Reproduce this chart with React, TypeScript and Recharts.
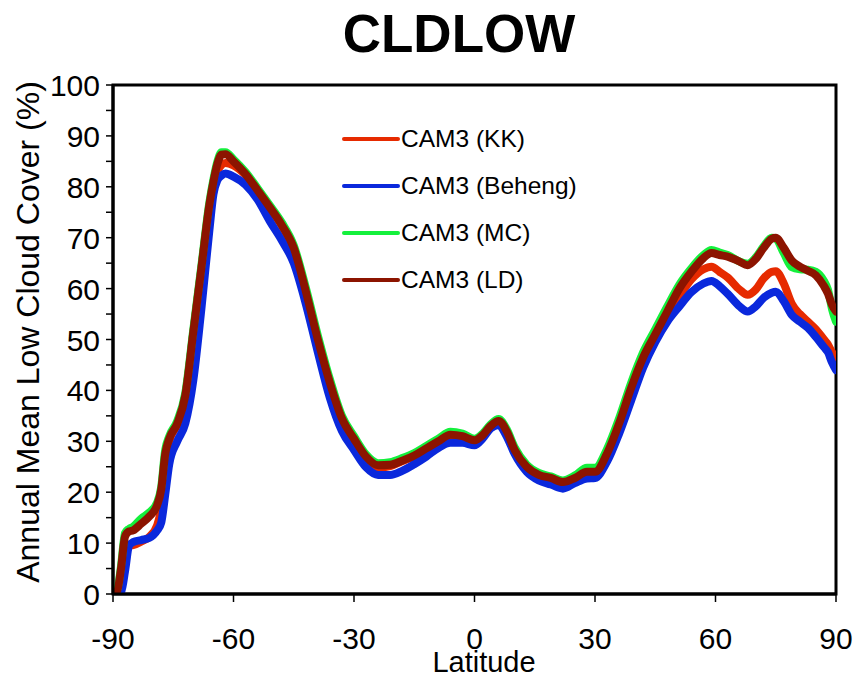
import React from "react";
import {
  LineChart,
  Line,
  XAxis,
  YAxis,
  Legend,
  ReferenceArea,
} from "recharts";

const LAT = [-90,-89,-88,-87,-86,-85,-83,-81,-79,-78,-77,-76,-74,-72,-70,-68,-66,-65,-64,-63,-62,-60,-57,-54,-51,-48,-45,-42,-39,-36,-33,-30,-27,-24,-21,-18,-15,-12,-9,-6,-3,0,2,4,6,8,10,13,16,19,22,25,28,30,33,36,39,42,45,48,51,54,57,59,61,63,66,68,70,72,74,75,77,79,81,83,85,87,88,89,90];

const KK = [0,0.3,3,9,9.5,9.6,10.3,11.2,13.5,17,25,30,33.3,38.8,51.3,63.8,76,80.3,83,84.3,84.7,84.2,82.3,79.2,75.9,72.4,67.9,59.4,49.9,41.4,34.4,30.4,26.7,24.8,25.1,26.1,27.1,28.5,29.9,31.1,30.9,30.1,31.1,32.9,33.9,31.9,28.2,24.9,23.3,22.7,21.9,22.7,23.8,23.9,27.5,33.3,40.3,46.3,50.6,54.8,58.5,61.8,63.8,64.3,63.3,62.2,59.8,58.8,59.8,62,63.3,63.4,61,57,55,53.5,52,50,49,47.5,46.5];

const BEHENG = [0,0,0.3,4.5,9.5,10.2,10.6,11,12.5,14,19.5,25.5,30,33.5,42,56,71.5,78.5,81.3,82.2,82.6,82,80.4,77.5,73.3,69.5,65,57,47.5,38.5,32,28.3,24.9,23.4,23.4,24.2,25.5,27,28.7,29.7,29.7,29.2,30.5,32.5,33.2,31,27.5,24,22.3,21.5,20.7,21.8,22.7,22.8,26,31.5,38,44.5,49.5,53.5,56.5,59.3,61,61.5,60.5,59,56.5,55.5,56.5,58.2,59.2,59.4,57.5,54.8,53.5,52.3,50.5,48.5,47.5,45.5,44];

const MC = [0,0.7,5.5,12,12.8,13.2,14.8,16,18,21,28.3,31,34,39.5,52,64.5,77,81.5,85,86.8,86.8,85.4,82.9,79.7,76.4,73,68.5,60.2,50.8,42.2,35,31,27.4,25.7,25.9,26.7,27.7,29.1,30.5,31.9,31.5,30.5,31.5,33.3,34.4,32.4,28.8,25.4,23.8,23.1,22.3,23.3,24.8,24.8,28.5,34.5,41.5,47.5,52,56.5,60.8,64,66.6,67.6,67.1,66.6,65.3,64.9,66.1,68.3,70,69.8,67,64.2,63.8,63.7,63.3,61.5,59.8,56,53.5];

const LD = [0,0.5,5,11.3,12.3,12.5,13.8,15.2,17.5,20.5,27.5,30.5,33.5,39,51.5,64,76.5,81,84.5,86.3,86.4,85,82.5,79.3,76,72.5,68,59.5,50,41.5,34.5,30.5,27,25.3,25.4,26.2,27.2,28.6,30,31.3,31,30.2,31.2,33,34,32,28.3,25,23.4,22.8,22,22.8,24,24,27.6,33.5,40.5,46.5,51,55.5,60,63.3,66,67,66.6,66.3,65.3,64.6,65.8,68,69.8,70,68,65.5,64.3,63.5,62.6,60.5,59,56.8,55.5];

const X_TICKS = [-90, -60, -30, 0, 30, 60, 90];
const Y_TICKS = [0,5,10,15,20,25,30,35,40,45,50,55,60,65,70,75,80,85,90,95,100];

const SERIES = [
  { key: "kk", name: "CAM3 (KK)", color: "#E62A00", values: KK },
  { key: "beheng", name: "CAM3 (Beheng)", color: "#0A28DC", values: BEHENG },
  { key: "mc", name: "CAM3 (MC)", color: "#14F03C", values: MC },
  { key: "ld", name: "CAM3 (LD)", color: "#8C1400", values: LD },
];

const data = LAT.map((lat, i) => {
  const row: Record<string, number> = { lat };
  SERIES.forEach((s) => {
    row[s.key] = s.values[i];
  });
  return row;
});

const FONT = "Arial, 'Liberation Sans', Helvetica, sans-serif";

const YTick = (props: any) => {
  const { x, y, payload } = props;
  if (payload.value % 10 !== 0) return <g />;
  return (
    <text x={x} y={y} dx={-4} dy={11} textAnchor="end" fontSize={30} fontFamily={FONT} fill="#000">
      {payload.value}
    </text>
  );
};

const XTick = (props: any) => {
  const { x, y, payload } = props;
  return (
    <text x={x} y={y} dy={45} textAnchor="middle" fontSize={30} fontFamily={FONT} fill="#000">
      {payload.value}
    </text>
  );
};

const YLabel = () => (
  <text
    transform="translate(28, 332) rotate(-90)"
    textAnchor="middle"
    dominantBaseline="central"
    fontSize={32}
    fontFamily={FONT}
    fill="#000"
  >
    Annual Mean Low Cloud Cover (%)
  </text>
);

const XLabel = () => (
  <text x={484} y={672} textAnchor="middle" fontSize={29} fontFamily={FONT} fill="#000">
    Latitude
  </text>
);

const LegendContent = () => (
  <div style={{ fontFamily: FONT }}>
    {SERIES.map((s) => (
      <div key={s.key} style={{ display: "flex", alignItems: "center", height: 47 }}>
        <svg width={60} height={10} style={{ display: "block" }}>
          <line x1={3} y1={5} x2={57} y2={5} stroke={s.color} strokeWidth={4} strokeLinecap="round" />
        </svg>
        <span style={{ fontSize: 24.5, color: "#000", whiteSpace: "nowrap" }}>{s.name}</span>
      </div>
    ))}
  </div>
);

export default function App() {
  return (
    <div style={{ position: "relative", width: 854, height: 677, overflow: "hidden" }}>
      <style>{`html, body { margin: 0; padding: 0; overflow: hidden; }`}</style>
      <div
        style={{
          position: "absolute",
          left: 0,
          top: 7,
          width: 918,
          textAlign: "center",
          fontFamily: FONT,
          fontWeight: "bold",
          fontSize: 53,
          lineHeight: "53px",
          color: "#000",
        }}
      >
        CLDLOW
      </div>
      <LineChart
        width={854}
        height={677}
        data={data}
        margin={{ top: 85, right: 18, left: 0, bottom: 0 }}
      >
        <XAxis
          dataKey="lat"
          type="number"
          domain={[-90, 90]}
          ticks={X_TICKS}
          allowDataOverflow
          tick={<XTick />}
          tickSize={8}
          tickLine={{ stroke: "#000", strokeWidth: 1.5 }}
          axisLine={{ stroke: "#000", strokeWidth: 3 }}
          height={83}
          interval={0}
          label={<XLabel />}
        />
        <YAxis
          type="number"
          domain={[0, 100]}
          ticks={Y_TICKS}
          allowDataOverflow
          tick={<YTick />}
          tickSize={7}
          tickLine={{ stroke: "#000", strokeWidth: 1.5 }}
          axisLine={{ stroke: "#000", strokeWidth: 3 }}
          width={113}
          interval={0}
          label={<YLabel />}
        />
        <ReferenceArea
          x1={-90}
          x2={90}
          y1={0}
          y2={100}
          fill="none"
          stroke="#000"
          strokeWidth={3}
          ifOverflow="visible"
        />
        {SERIES.map((s) => (
          <Line
            key={s.key}
            dataKey={s.key}
            name={s.name}
            type="monotone"
            stroke={s.color}
            strokeWidth={8}
            strokeLinejoin="round"
            strokeLinecap="round"
            dot={false}
            activeDot={false}
            isAnimationActive={false}
          />
        ))}
        <Legend
          layout="vertical"
          align="center"
          verticalAlign="middle"
          content={<LegendContent />}
          wrapperStyle={{ position: "absolute", left: 341, top: 115, width: 280, height: 190 }}
        />
      </LineChart>
    </div>
  );
}
